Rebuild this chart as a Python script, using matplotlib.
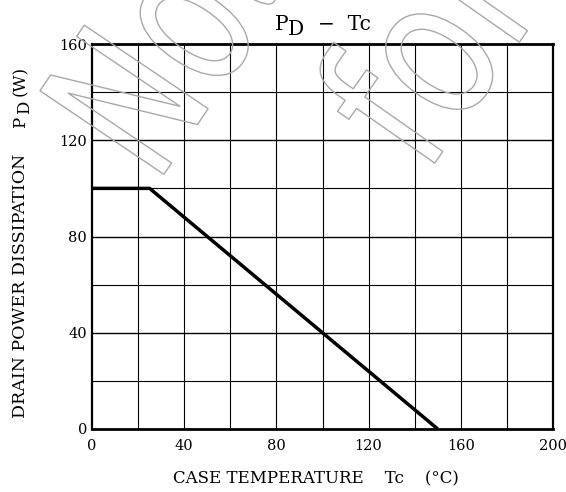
import matplotlib.pyplot as plt
from matplotlib.textpath import TextPath
from matplotlib.patches import PathPatch
from matplotlib.font_manager import FontProperties
import matplotlib.transforms as mtransforms

# кривая PD - Tc
tc = [0, 25, 150]
pd_w = [100, 100, 0]

x_ticks = [0, 40, 80, 120, 160, 200]
y_ticks = [0, 40, 80, 120, 160]

plt.rcParams['font.family'] = ['DejaVu Serif']

W, H = 566, 492
fig = plt.figure(figsize=(W / 100, H / 100), dpi=100)
ax = fig.add_axes([92 / W, 1 - 429 / H, 461 / W, 385 / H])

ax.set_xlim(0, 200)
ax.set_ylim(0, 160)

# сетка
for x in range(20, 200, 20):
    ax.axvline(x, color='black', lw=0.8, zorder=1)
for y in range(20, 160, 20):
    ax.axhline(y, color='black', lw=1.0 if y % 40 == 0 else 0.8, zorder=1)

ax.plot(tc, pd_w, color='black', lw=2.5, zorder=3, solid_capstyle='butt')

ax.set_xticks(x_ticks)
ax.set_yticks(y_ticks)
ax.tick_params(length=0, labelsize=10.5)
ax.tick_params(axis='y', pad=3.5)
ax.tick_params(axis='x', pad=7)
for s in ax.spines.values():
    s.set_linewidth(1.6)
ax.spines['top'].set_linewidth(2.0)
ax.spines['bottom'].set_linewidth(2.0)

px = mtransforms.IdentityTransform()

# заголовок: P и D одного размера, D опущена
fig.text(275, H - 30, 'P', transform=px, fontsize=14.5, ha='left', va='baseline')
fig.text(288, H - 35, 'D', transform=px, fontsize=14.5, ha='left', va='baseline')
fig.text(318, H - 30, '−  Tc', transform=px, fontsize=14.5, ha='left', va='baseline')

# подпись оси X
fig.text(173, H - 483, 'CASE TEMPERATURE    Tc    (°C)', transform=px, fontsize=12,
         ha='left', va='baseline')

# подпись оси Y (по кускам)
fig.text(25, H - 418, 'DRAIN POWER DISSIPATION', transform=px, fontsize=12.5,
         rotation=90, ha='left', va='baseline', rotation_mode='anchor')
fig.text(25, H - 128, 'P', transform=px, fontsize=12,
         rotation=90, ha='left', va='baseline', rotation_mode='anchor')
fig.text(29, H - 114, 'D', transform=px, fontsize=12,
         rotation=90, ha='left', va='baseline', rotation_mode='anchor')
fig.text(25, H - 96, '(W)', transform=px, fontsize=12,
         rotation=90, ha='left', va='baseline', rotation_mode='anchor')


# водяной знак (контур)
def outline_word(word, x0, y0, size, angle, xscale=0.7):
    tp = TextPath((0, 0), word, size=size, prop=FontProperties(family='DejaVu Sans'))
    tr = mtransforms.Affine2D().scale(xscale, 1).rotate_deg(angle).translate(x0, y0)
    patch = PathPatch(tr.transform_path(tp), facecolor='none', edgecolor='#a8a8a8',
                      lw=1.0, transform=px, zorder=10)
    fig.add_artist(patch)


outline_word('Not', 156, H - 186, 205, 56)
outline_word('for', 425, H - 177, 200, 55, xscale=0.78)

fig.savefig('out.png', dpi=100)
